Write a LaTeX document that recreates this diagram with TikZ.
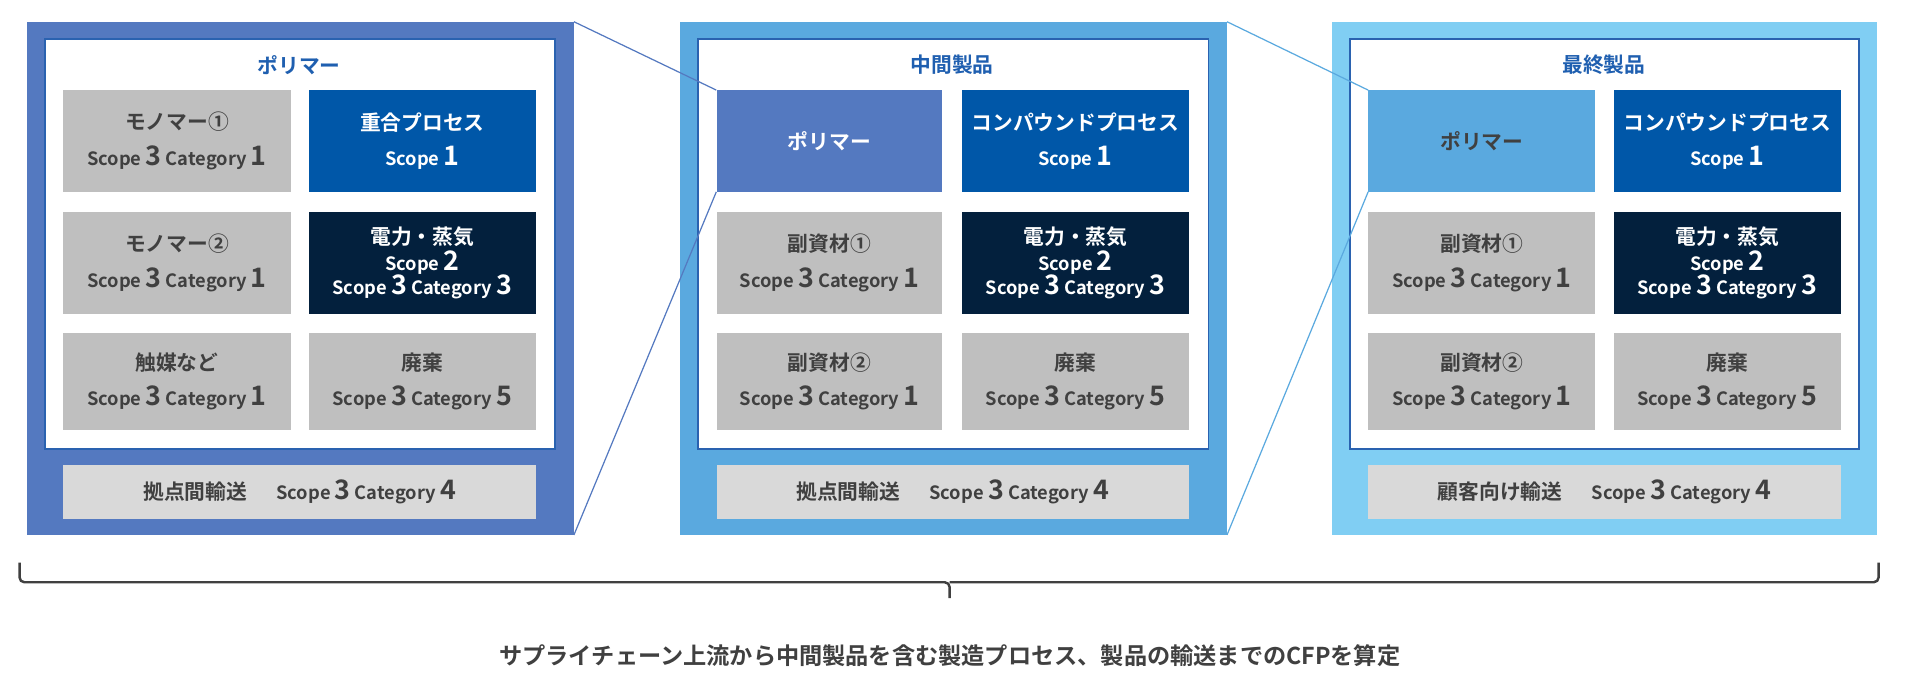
\documentclass[tikz,border=0pt]{standalone}
\usepackage{fontspec}
\setmainfont{Noto Sans CJK JP}[BoldFont={* Bold}]
\begin{document}
\begin{tikzpicture}[x=1pt,y=-1pt,
  cellbase/.style={inner sep=0pt, align=center, font=\bfseries\fontsize{17}{21}\selectfont},
  graycell/.style={cellbase, fill=cgray, text=ctext},
  bluecell/.style={cellbase, fill=cblue, text=white},
  navycell/.style={cellbase, fill=cnavy, text=white},
  barcell/.style={cellbase, fill=cbar, text=ctext},
  titletxt/.style={font=\bfseries\fontsize{17}{20}\selectfont, text=ctitle},
  zoomline/.style={line width=1pt}]
\definecolor{cgray}{HTML}{BFBFBF}
\definecolor{cbar}{HTML}{D9D9D9}
\definecolor{ctext}{HTML}{404040}
\definecolor{cblue}{HTML}{0057A8}
\definecolor{cnavy}{HTML}{03203D}
\definecolor{ctitle}{HTML}{1F5FB0}
\definecolor{pone}{HTML}{5479C0}
\definecolor{ptwo}{HTML}{5AA9DF}
\definecolor{pthree}{HTML}{80CEF3}
\definecolor{cframe}{HTML}{2A62B0}
\newcommand{\bn}[1]{{\fontsize{22}{22}\selectfont #1}}
\newcommand{\scat}[2]{{\fontsize{15}{18}\selectfont Scope \bn{#1} Category \bn{#2}}}
\newcommand{\sone}{{\fontsize{15}{18}\selectfont Scope \bn{1}}}
\newcommand{\stwo}{{\fontsize{15}{18}\selectfont Scope \bn{2}}}
\newcommand{\mkcell}[7]{\node[#6, minimum width=#4-#2, minimum height=#5-#3] (#1) at ({(#2+#4)/2},{(#3+#5)/2}) {#7};}
\useasboundingbox (0,0) rectangle (1568,555);
\fill[white] (0,0) rectangle (1568,555);
% panel outers
\node[fill=pone, inner sep=0pt, minimum width=448, minimum height=420] (P1) at (246,228) {};
\node[fill=ptwo, inner sep=0pt, minimum width=448, minimum height=420] (P2) at (781,228) {};
\node[fill=pthree, inner sep=0pt, minimum width=447, minimum height=420] (P3) at (1314.5,228) {};
% inner white
\node[fill=white, draw=cframe, line width=1.5pt, inner sep=0pt, minimum width=418, minimum height=336] (I1) at (246,200) {};
\node[fill=white, draw=cframe, line width=1.5pt, inner sep=0pt, minimum width=418, minimum height=336] (I2) at (781,200) {};
\node[fill=white, draw=cframe, line width=1.5pt, inner sep=0pt, minimum width=417, minimum height=336] (I3) at (1314.5,200) {};
\node[titletxt] (T1) at (245,53) {ポリマー};
\node[titletxt] (T2) at (780,53) {中間製品};
\node[titletxt] (T3) at (1314,53) {最終製品};
% panel 1
\mkcell{a1}{52}{74}{238}{157}{graycell}{モノマー①\\[8pt]\scat{3}{1}}
\mkcell{a2}{253}{74}{439}{157}{bluecell}{重合プロセス\\[8pt]\sone}
\mkcell{a3}{52}{174}{238}{257}{graycell}{モノマー②\\[8pt]\scat{3}{1}}
\mkcell{a4}{253}{174}{439}{257}{navycell}{電力・蒸気\\[0pt]\stwo\\[-1pt]\scat{3}{3}}
\mkcell{a5}{52}{273}{238}{352}{graycell}{触媒など\\[8pt]\scat{3}{1}}
\mkcell{a6}{253}{273}{439}{352}{graycell}{廃棄\\[8pt]\scat{3}{5}}
\mkcell{a7}{52}{381}{439}{425}{barcell}{拠点間輸送\hspace{24pt}\scat{3}{4}}
% panel 2
\mkcell{b1}{587}{74}{772}{157}{cellbase,fill=pone,text=white}{ポリマー}
\mkcell{b2}{788}{74}{974}{157}{bluecell}{コンパウンドプロセス\\[8pt]\sone}
\mkcell{b3}{587}{174}{772}{257}{graycell}{副資材①\\[8pt]\scat{3}{1}}
\mkcell{b4}{788}{174}{974}{257}{navycell}{電力・蒸気\\[0pt]\stwo\\[-1pt]\scat{3}{3}}
\mkcell{b5}{587}{273}{772}{352}{graycell}{副資材②\\[8pt]\scat{3}{1}}
\mkcell{b6}{788}{273}{974}{352}{graycell}{廃棄\\[8pt]\scat{3}{5}}
\mkcell{b7}{587}{381}{974}{425}{barcell}{拠点間輸送\hspace{24pt}\scat{3}{4}}
% panel 3
\mkcell{c1}{1121}{74}{1307}{157}{cellbase,fill=ptwo,text=ctext}{ポリマー}
\mkcell{c2}{1322}{74}{1508}{157}{bluecell}{コンパウンドプロセス\\[8pt]\sone}
\mkcell{c3}{1121}{174}{1307}{257}{graycell}{副資材①\\[8pt]\scat{3}{1}}
\mkcell{c4}{1322}{174}{1508}{257}{navycell}{電力・蒸気\\[0pt]\stwo\\[-1pt]\scat{3}{3}}
\mkcell{c5}{1121}{273}{1307}{352}{graycell}{副資材②\\[8pt]\scat{3}{1}}
\mkcell{c6}{1322}{273}{1508}{352}{graycell}{廃棄\\[8pt]\scat{3}{5}}
\mkcell{c7}{1121}{381}{1508}{425}{barcell}{顧客向け輸送\hspace{24pt}\scat{3}{4}}
% zoom lines
\draw[zoomline, pone] (P1.north east) -- (b1.north west);
\draw[zoomline, pone] (P1.south east) -- (b1.south west);
\draw[zoomline, ptwo] (P2.north east) -- (c1.north west);
\draw[zoomline, ptwo] (P2.south east) -- (c1.south west);
% brace
\coordinate (bl) at (16,461);
\coordinate (br) at (1539,461);
\coordinate (bm) at (778,490);
\draw[line width=2pt, ctext, rounded corners=4pt] (bl) -- (16,477) -- (778,477) -- (bm);
\draw[line width=2pt, ctext, rounded corners=4pt] (br) -- (1539,477) -- (778,477);
\node[font=\bfseries\fontsize{19}{22}\selectfont, text=ctext] (cap) at (778,537) {サプライチェーン上流から中間製品を含む製造プロセス、製品の輸送までのCFPを算定};
\end{tikzpicture}
\end{document}
